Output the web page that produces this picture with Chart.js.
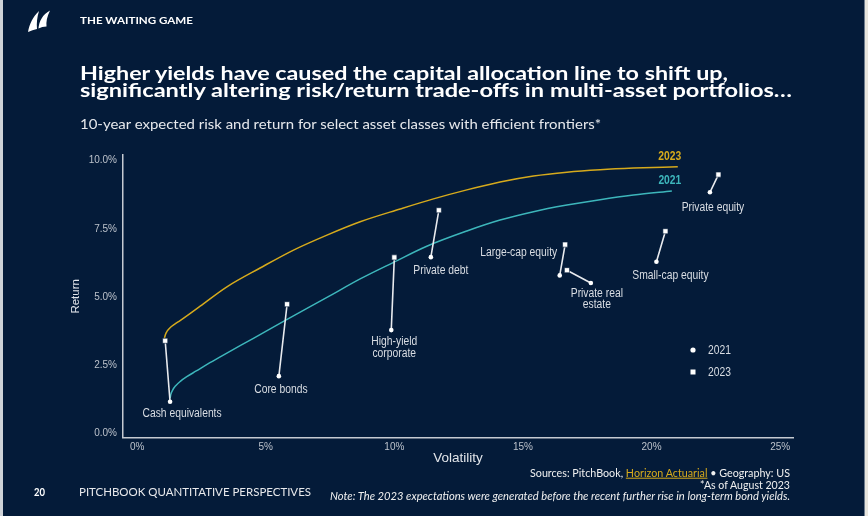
<!DOCTYPE html>
<html><head><meta charset="utf-8">
<script src="https://cdn.jsdelivr.net/npm/chart.js@4.4.0/dist/chart.umd.min.js"></script>
<style>
html,body{margin:0;padding:0;background:#041b39;}
body{width:868px;height:516px;position:relative;overflow:hidden;font-family:Lato,'Liberation Sans',sans-serif;}
#c{position:absolute;left:0;top:0;}
.t{position:absolute;white-space:nowrap;color:#fff;line-height:1.2;transform-origin:left center;}
#bl{position:absolute;left:0;top:0;width:3px;height:516px;background:#cfd3d8;}
#br1{position:absolute;left:864px;top:0;width:1px;height:516px;background:#6f7d8e;}
#br2{position:absolute;left:865px;top:0;width:3px;height:516px;background:#e8e5de;}
</style></head><body>
<canvas id="c" width="868" height="516"></canvas>
<div id="bl"></div><div id="br1"></div><div id="br2"></div>
<svg style="position:absolute;left:27px;top:10px" width="26" height="22" viewBox="0 0 26 22">
<path d="M1 22 C2.5 14 6 6.5 12 1 C10 7.5 9.5 13 10 19 C7 19.5 4 20.5 1 22 Z" fill="#fff"/>
<path d="M11.5 18.5 C12 11.5 15.5 4.5 23 0.5 C20 6.5 19 12 19.5 16.5 C16.5 16.5 14 17.3 11.5 18.5 Z" fill="#fff"/>
</svg>
<div class="t" data-w="113" style="left:80px;top:20px;font-size:10px;font-weight:700;">THE WAITING GAME</div>
<div class="t" data-w="648" style="left:80px;top:72.5px;font-size:18.5px;font-weight:700;">Higher yields have caused the capital allocation line to shift up,</div>
<div class="t" data-w="712" style="left:80px;top:90px;font-size:18.5px;font-weight:700;">significantly altering risk/return trade-offs in multi-asset portfolios…</div>
<div class="t" data-w="521" style="left:80px;top:124px;font-size:12.5px;color:#e6e8ec;">10-year expected risk and return for select asset classes with efficient frontiers*</div>
<div class="t" data-w="11" style="left:34px;top:492px;font-size:11.5px;font-weight:700;">20</div>
<div class="t" data-w="232" style="left:79px;top:492px;font-size:11px;color:#e8e9ec;">PITCHBOOK QUANTITATIVE PERSPECTIVES</div>
<div class="t" data-w="260" style="left:530px;top:473px;font-size:10.5px;color:#f0f0f0;">Sources: PitchBook, <span style="color:#d6aa1c;text-decoration:underline;">Horizon Actuarial</span> • Geography: US</div>
<div class="t" data-w="90" style="left:700px;top:484.5px;font-size:10.5px;color:#f0f0f0;">*As of August 2023</div>
<div class="t" data-w="460" style="left:330px;top:496px;font-size:10.5px;font-style:italic;color:#f0f0f0;">Note: The 2023 expectations were generated before the recent further rise in long-term bond yields.</div>
<script>
// ---------- DATA ----------
const seriesNames = ['2021', '2023'];
const assetNames = [['Cash equivalents'], ['Core bonds'], ['High-yield', 'corporate'], ['Private debt'],
  ['Large-cap equity'], ['Private real', 'estate'], ['Small-cap equity'], ['Private equity']];
const vol2021 = [1.28, 5.51, 9.88, 11.42, 16.43, 17.64, 20.19, 22.27];
const ret2021 = [1.15, 2.09, 3.78, 6.46, 5.79, 5.51, 6.29, 8.84];
const vol2023 = [1.09, 5.83, 10.00, 11.73, 16.64, 16.71, 20.54, 22.60];
const ret2023 = [3.39, 4.73, 6.45, 8.18, 6.92, 5.98, 7.41, 9.49];
const frontier2023Vol = [1.06, 1.10, 1.17, 1.28, 1.45, 1.67, 2.00, 2.45, 3.49, 4.78, 6.08, 7.38, 8.67, 10.23, 11.52, 12.82, 14.11, 15.41, 16.71, 18.00, 19.30, 21.02];
const frontier2023Ret = [3.48, 3.62, 3.75, 3.87, 3.99, 4.13, 4.35, 4.66, 5.37, 6.06, 6.72, 7.27, 7.76, 8.23, 8.60, 8.93, 9.22, 9.44, 9.58, 9.67, 9.73, 9.78];
const frontier2021Vol = [1.28, 1.31, 1.38, 1.50, 1.68, 1.93, 2.30, 2.75, 3.23, 4.52, 5.69, 7.38, 8.67, 9.97, 11.26, 12.82, 14.11, 15.41, 16.71, 18.00, 19.30, 20.79];
const frontier2021Ret = [1.27, 1.42, 1.58, 1.74, 1.90, 2.07, 2.28, 2.54, 2.80, 3.48, 4.10, 4.98, 5.66, 6.27, 6.86, 7.42, 7.82, 8.13, 8.37, 8.57, 8.74, 8.89];
const xTickValues = [0, 5, 10, 15, 20, 25];
const yTickValues = [0, 2.5, 5, 7.5, 10];

// ---------- STYLE / LAYOUT ----------
const GOLD = '#d6aa1c', TEAL = '#3db6bb', WHITE = '#ffffff', LABEL = '#d9dde3', TICK = '#bcc2cb', AXIS = '#c5cad1';
const labelOffsets = [[12, 12], [2, 14], [3, 11.7], [10, 14], [-41, -22.6], [6, 10.3], [14, 14], [3, 15]];
const labelLineH = 11.6;
const labelFont = '12px "Liberation Sans", sans-serif';
const labelCondense = 0.86;

function fitTexts() {
  document.querySelectorAll('.t').forEach(el => {
    el.style.transform = 'translateY(-50%)';
    const w = el.getBoundingClientRect().width;
    const s = parseFloat(el.dataset.w) / w;
    el.style.transform = 'translateY(-50%) scaleX(' + s + ')';
  });
}
fitTexts();
if (document.fonts && document.fonts.ready) document.fonts.ready.then(fitTexts);

const toPts = (xs, ys) => xs.map((v, i) => ({x: v, y: ys[i]}));
const connectors = [];
vol2021.forEach((v, i) => {
  connectors.push({x: v, y: ret2021[i]});
  connectors.push({x: vol2023[i], y: ret2023[i]});
  connectors.push({x: vol2023[i], y: null});
});

const annot = {
  id: 'annot',
  afterDatasetsDraw(chart) {
    const {ctx, scales: {x, y}} = chart;
    ctx.save();
    ctx.fillStyle = LABEL;
    ctx.font = labelFont;
    ctx.textAlign = 'center';
    ctx.textBaseline = 'middle';
    assetNames.forEach((lines, i) => {
      const px = x.getPixelForValue(vol2021[i]) + labelOffsets[i][0];
      const py = y.getPixelForValue(ret2021[i]) + labelOffsets[i][1];
      lines.forEach((ln, j) => {
        ctx.save();
        ctx.translate(px, py + j * labelLineH);
        ctx.scale(labelCondense, 1);
        ctx.fillText(ln, 0, 0);
        ctx.restore();
      });
    });
    ctx.font = 'bold 12px "Liberation Sans", sans-serif';
    const n3 = frontier2023Vol.length - 1, n1 = frontier2021Vol.length - 1;
    [[frontier2023Vol[n3], frontier2023Ret[n3], seriesNames[1], GOLD, -8, -10.5],
     [frontier2021Vol[n1], frontier2021Ret[n1], seriesNames[0], TEAL, -2, -10]].forEach(c => {
      ctx.save();
      ctx.fillStyle = c[3];
      ctx.translate(x.getPixelForValue(c[0]) + c[4], y.getPixelForValue(c[1]) + c[5]);
      ctx.scale(labelCondense, 1);
      ctx.fillText(c[2], 0, 0);
      ctx.restore();
    });
    ctx.fillStyle = WHITE;
    ctx.beginPath(); ctx.arc(693, 350, 2.6, 0, Math.PI * 2); ctx.fill();
    ctx.fillRect(690.5, 369.5, 5, 5);
    ctx.fillStyle = LABEL;
    ctx.font = labelFont;
    ctx.textAlign = 'left';
    [[seriesNames[0], 350.5], [seriesNames[1], 373]].forEach(l => {
      ctx.save(); ctx.translate(708, l[1]); ctx.scale(labelCondense, 1); ctx.fillText(l[0], 0, 0); ctx.restore();
    });
    ctx.restore();
  }
};

new Chart(document.getElementById('c'), {
  type: 'scatter',
  data: {
    datasets: [
      {label: '2021 points', data: toPts(vol2021, ret2021), pointStyle: 'circle', pointRadius: 2.3,
       backgroundColor: WHITE, borderColor: WHITE, borderWidth: 0, order: 0},
      {label: '2023 points', data: toPts(vol2023, ret2023), pointStyle: 'rect', pointRadius: 3.6,
       backgroundColor: WHITE, borderColor: '#041b39', borderWidth: 0.6, order: 0},
      {label: 'connectors', data: connectors, showLine: true, spanGaps: false, pointRadius: 0,
       borderColor: '#e8eaee', borderWidth: 1.6, order: 1},
      {label: '2023 frontier', data: toPts(frontier2023Vol, frontier2023Ret), showLine: true, pointRadius: 0,
       borderColor: GOLD, borderWidth: 1.5, cubicInterpolationMode: 'monotone', order: 2},
      {label: '2021 frontier', data: toPts(frontier2021Vol, frontier2021Ret), showLine: true, pointRadius: 0,
       borderColor: TEAL, borderWidth: 1.5, cubicInterpolationMode: 'monotone', order: 2}
    ]
  },
  options: {
    responsive: false,
    animation: false,
    devicePixelRatio: 1,
    layout: {padding: {top: 155, right: 75, bottom: 45, left: 69}},
    plugins: {legend: {display: false}, tooltip: {enabled: false}},
    scales: {
      x: {
        type: 'linear', min: -0.55, max: 25.5,
        afterBuildTicks: a => { a.ticks = xTickValues.map(v => ({value: v})); },
        afterFit: a => { a.height = 33.3; },
        grid: {display: false, drawTicks: false},
        border: {display: true, color: AXIS, width: 1.5},
        ticks: {color: TICK, font: {family: 'Liberation Sans', size: 10}, padding: 4, callback: v => v + '%', maxRotation: 0, autoSkip: false},
        title: {display: true, text: 'Volatility', color: '#e2e5ea', font: {family: 'Liberation Sans', size: 13.5}, padding: {top: 0, bottom: 5}}
      },
      y: {
        type: 'linear', min: -0.17, max: 10.21,
        afterBuildTicks: a => { a.ticks = yTickValues.map(v => ({value: v})); },
        afterFit: a => { a.width = 54; },
        grid: {display: false, drawTicks: false},
        border: {display: true, color: AXIS, width: 1.5},
        ticks: {color: TICK, font: {family: 'Liberation Sans', size: 10}, padding: 6, callback: v => v.toFixed(1) + '%', autoSkip: false},
        title: {display: true, text: 'Return', color: '#e2e5ea', font: {family: 'Liberation Sans', size: 11.5}, padding: {top: 0, bottom: 0}}
      }
    }
  },
  plugins: [annot]
});
</script>
</body></html>
